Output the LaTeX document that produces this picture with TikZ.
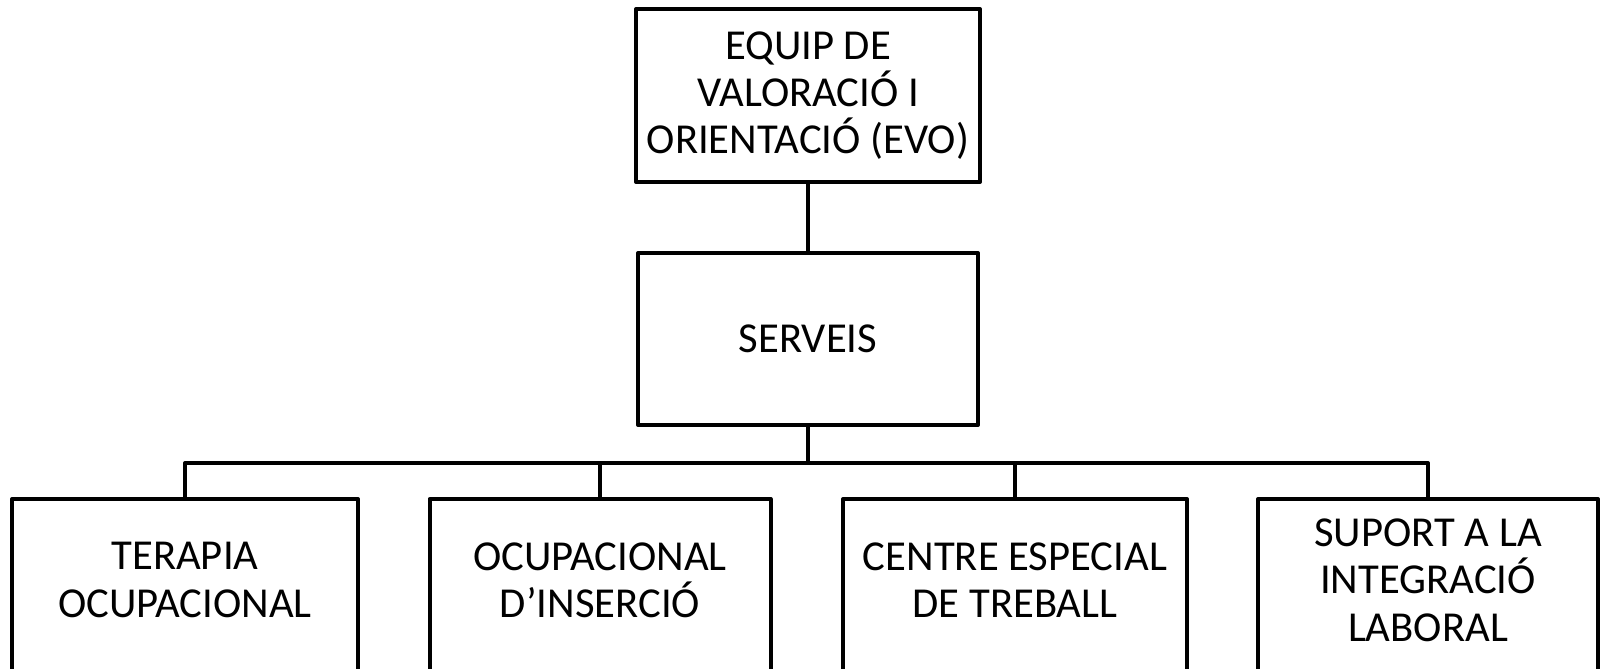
\documentclass[tikz,border=0pt]{standalone}
\usepackage{fontspec}
\setmainfont{Carlito}
\begin{document}
\begin{tikzpicture}[x=0.75pt,y=-0.75pt,
  box/.style={draw=black,line width=3pt,line join=round,
    minimum width=#1*0.75pt,inner sep=0pt,align=center,
    font=\fontsize{32pt}{35.5pt}\selectfont},
  openbox/.style={box=#1,draw=none,outer sep=0pt},
  frame/.style={draw=black,line width=3pt,line join=round},
  conn/.style={draw=black,line width=3pt,line join=round}]
\useasboundingbox (0,0) rectangle (1600,668);
\clip (0,0) rectangle (1600,668);
\node[box=344,minimum height=173*0.75pt] (evo) at (808,95.5) {EQUIP DE\\VALORACIÓ I\\ORIENTACIÓ (EVO)};
\node[box=340,minimum height=172*0.75pt] (serveis) at (808,339) {SERVEIS};
\node[openbox=346,minimum height=162*0.75pt] (b1) at (185,580) {TERAPIA\\OCUPACIONAL};
\node[openbox=341,minimum height=162*0.75pt] (b2) at (600,580) {OCUPACIONAL\\D’INSERCIÓ};
\node[openbox=344,minimum height=162*0.75pt] (b3) at (1015,580) {CENTRE ESPECIAL\\DE TREBALL};
\node[openbox=340,minimum height=162*0.75pt] (b4) at (1428,580) {SUPORT A LA\\INTEGRACIÓ\\LABORAL};
\foreach \b in {b1,b2,b3,b4}{
  \draw[frame] (\b.north west) rectangle ([yshift=-20*0.75pt]\b.south east);
}
\coordinate (bus) at (808,463);
\draw[conn] (evo) -- (serveis);
\draw[conn] (serveis) -- (bus);
\draw[conn] (b1.north) |- (bus) -| (b4.north);
\draw[conn] (b2.north) -- (b2.north |- bus);
\draw[conn] (b3.north) -- (b3.north |- bus);
\end{tikzpicture}
\end{document}
